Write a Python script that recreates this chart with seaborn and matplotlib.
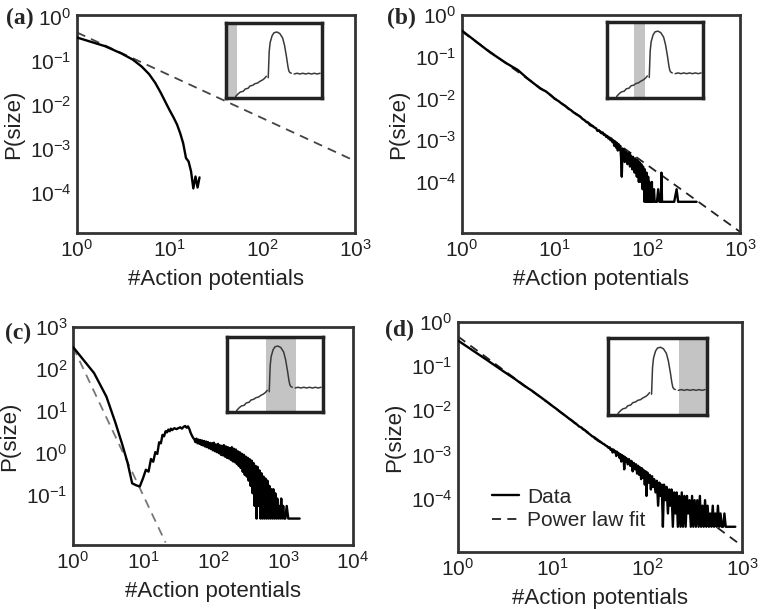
import numpy as np
import pandas as pd
import seaborn as sns
import matplotlib
matplotlib.use("Agg")
import matplotlib.pyplot as plt

# ---------- panel (a): small avalanches, exponential-like cut-off ----------
a_sizes = list(range(1, 22))
a_prob = [0.339, 0.216, 0.148, 0.107, 0.0741, 0.0501, 0.0316, 0.0191, 0.0117,
          0.00759, 0.00525, 0.00363, 0.00229, 0.00135, 0.00063, 0.000525,
          0.000316, 0.000129, 0.00024, 0.000135, 0.000229]
a_fit_x = [1, 1000]
a_fit_y = [0.44, 5.4e-4]

# ---------- panel (b): power law ----------
b_sizes = list(range(1, 26))
b_prob = [0.42, 0.128, 0.070, 0.048, 0.031, 0.0225, 0.0172, 0.0148, 0.0121,
          0.0098, 0.0086, 0.0074, 0.0066, 0.0057, 0.0052, 0.0046, 0.0042,
          0.0039, 0.0036, 0.0032, 0.0030, 0.0027, 0.0026, 0.0023, 0.0022]
b_unit = 3.3e-5  # probability of a single event
b_tail_sizes = list(range(26, 101)) + [
    101, 102, 104, 105, 107, 108, 110, 112, 113, 115,
    118, 120, 123, 127, 131, 135, 140, 142, 144, 150,
    158, 165, 175, 186, 195, 207, 215, 230, 250, 275,
    300, 340]
b_tail_counts = [
    64, 60, 58, 50, 52, 47, 44, 46, 40, 41,
    36, 38, 33, 35, 30, 33, 27, 30, 22, 28,
    20, 26, 17, 24, 18, 22, 12, 4, 19, 11,
    18, 9, 16, 12, 15, 8, 14, 9, 15, 7,
    13, 8, 12, 6, 12, 7, 10, 5, 11, 6,
    9, 4, 10, 5, 8, 3, 9, 4, 7, 3,
    8, 4, 6, 2, 7, 3, 5, 1, 6, 2,
    4, 1, 5, 1, 3,
    1, 4, 1, 3, 1, 2, 1, 3, 1, 1,
    2, 1, 1, 1, 2, 1, 1, 5, 1, 1,
    1, 1, 1, 1, 1, 2, 1, 1, 1, 1,
    1, 1]
b_fit_x = [1, 1000]
b_fit_y = [0.40, 6.3e-6]

# ---------- panel (c): bimodal ----------
c_sizes = list(range(1, 27)) + [28, 30, 32, 34, 36, 38, 40, 42, 44, 46, 48, 50, 52]
c_prob = [335, 80, 22, 5.5, 1.7, 0.6, 0.19, 0.17, 0.16, 0.25,
          0.40, 0.36, 0.72, 0.62, 1.05, 0.95, 1.8, 1.7, 2.7, 2.5,
          3.3, 3.1, 3.6, 3.3, 3.8, 3.5,
          3.9, 3.7, 3.9, 4.1, 3.8, 4.2, 4.4, 4.0, 4.3, 3.7, 3.0, 2.6, 2.3]
c_unit = 0.0275
c_tail_sizes = [
    54, 56, 58, 60, 62, 64, 66, 68, 70, 72,
    75, 77, 80, 82, 85, 88, 91, 94, 97, 100,
    103, 107, 110, 114, 118, 122, 126, 130, 134, 138,
    143, 148, 153, 158, 163, 168, 174, 180, 186, 192,
    198, 205, 212, 219, 226, 233, 241, 249, 257, 266,
    275, 284, 293, 303, 313, 323, 334, 345, 356, 368,
    380, 393, 406, 419, 433, 447, 462, 477, 493, 509,
    526, 543, 561, 580, 599, 619, 639, 660, 682, 705,
    728, 752, 777, 802, 829, 856, 884, 913, 944, 975,
    1007, 1040, 1080, 1130, 1190, 1260, 1340, 1430, 1530, 1620,
    1730]
c_tail_counts = [
    78, 66, 80, 62, 76, 60, 74, 57, 72, 55,
    70, 52, 68, 50, 66, 47, 63, 45, 62, 42,
    64, 40, 58, 38, 60, 36, 55, 33, 54, 32,
    56, 30, 52, 28, 50, 27, 48, 25, 50, 23,
    46, 22, 44, 20, 40, 18, 38, 16, 35, 13,
    33, 11, 30, 10, 28, 8, 26, 6, 24, 4,
    21, 2, 18, 1, 17, 2, 14, 1, 12, 1,
    10, 1, 9, 1, 8, 1, 6, 1, 5, 1,
    5, 1, 4, 1, 3, 1, 2, 1, 3, 1,
    2, 1, 1, 2, 1, 1, 1, 1, 1, 1,
    1]
c_fit_x = [1, 21]
c_fit_y = [335, 0.0074]

# ---------- panel (d): power law ----------
d_sizes = list(range(1, 30))
d_prob = [0.38, 0.14, 0.077, 0.051, 0.036, 0.028, 0.022, 0.0178, 0.0148, 0.0124,
          0.0107, 0.0092, 0.0081, 0.0072, 0.0064, 0.0058, 0.0052, 0.0048, 0.0043,
          0.0041, 0.0037, 0.0035, 0.0032, 0.0030, 0.0028, 0.0026, 0.0025, 0.0023,
          0.0022]
d_unit = 2.3e-5
d_tail_sizes = list(range(30, 61)) + [
    62, 64, 66, 68, 70, 72, 74, 76, 78, 80,
    82, 84, 86, 88, 90, 92, 94, 96, 98, 100,
    103, 106, 109, 112, 115, 118, 122, 126, 130, 134,
    138, 142, 146, 150, 155, 160, 165, 170, 175, 180,
    186, 192, 198, 204, 210, 217, 224, 231, 238, 246,
    254, 262, 270, 279, 288, 297, 306, 316, 326, 337,
    348, 359, 370, 382, 394, 407, 420, 433, 447, 461,
    476, 491, 507, 523, 540, 557, 575, 593, 612, 632,
    652, 673, 695, 717, 740, 770, 800, 850]
d_tail_counts = [
    90, 86, 83, 80, 76, 74, 70, 68, 65, 61,
    63, 55, 58, 48, 56, 49, 52, 40, 50, 44,
    46, 36, 44, 30, 42, 34, 40, 20, 38, 30,
    36,
    26, 34, 24, 31, 18, 28, 20, 26, 16, 24,
    15, 22, 12, 21, 13, 19, 9, 18, 5, 17,
    10, 15, 7, 14, 8, 12, 6, 11, 3, 10,
    5, 9, 1, 9, 4, 8, 2, 7, 3, 7,
    1, 6, 2, 6, 1, 5, 1, 6, 1, 5,
    1, 5, 2, 4, 1, 5, 1, 4, 1, 4,
    1, 5, 1, 3, 1, 4, 1, 3, 1, 2,
    1, 3, 1, 2, 1, 3, 1, 2, 1, 1,
    2, 1, 1, 1, 1, 1, 1, 1]
d_fit_x = [1, 1000]
d_fit_y = [0.47, 8.5e-6]

# ---------- inset trace (same in every panel), axes-fraction coordinates ----------
trace_seg = [0] * 14 + [1] * 15 + [2] * 10
trace_x = [0.10, 0.13, 0.15, 0.18, 0.20, 0.23, 0.25, 0.28, 0.30, 0.33, 0.35, 0.38, 0.40, 0.42,
           0.44, 0.445, 0.45, 0.46, 0.48, 0.50, 0.53, 0.56, 0.59, 0.61, 0.63, 0.645, 0.655, 0.665, 0.68,
           0.71, 0.74, 0.77, 0.80, 0.83, 0.86, 0.89, 0.92, 0.95, 0.98]
trace_y = [0.02, 0.06, 0.08, 0.09, 0.12, 0.13, 0.16, 0.17, 0.19, 0.20, 0.22, 0.24, 0.26, 0.29,
           0.27, 0.45, 0.62, 0.74, 0.83, 0.87, 0.88, 0.86, 0.80, 0.70, 0.55, 0.42, 0.36, 0.34, 0.33,
           0.32, 0.33, 0.32, 0.33, 0.32, 0.33, 0.32, 0.33, 0.32, 0.33]
bands = {"a": (0.0, 0.11), "b": (0.28, 0.40), "c": (0.41, 0.72), "d": (0.72, 1.0)}

trace = pd.DataFrame({"tx": trace_x, "ty": trace_y, "seg": trace_seg})


def make_df(sizes, prob, tail_sizes=None, tail_counts=None, unit=None):
    s = list(sizes)
    p = list(prob)
    if tail_sizes is not None:
        s += list(tail_sizes)
        p += list(np.array(tail_counts) * unit)
    return pd.DataFrame({"size": s, "p": p})


sns.set_theme(style="white")
plt.rcParams["font.family"] = ["Liberation Sans", "DejaVu Sans"]
plt.rcParams["mathtext.fontset"] = "custom"
plt.rcParams["mathtext.rm"] = "Liberation Sans"
plt.rcParams["mathtext.it"] = "Liberation Sans:italic"
plt.rcParams["mathtext.bf"] = "Liberation Sans:bold"
plt.rcParams["mathtext.sf"] = "Liberation Sans"

fig = plt.figure(figsize=(7.6, 6.1), dpi=100)


def px_axes(left, top, right, bottom):
    return fig.add_axes([left / 760, 1 - bottom / 610,
                         (right - left) / 760, (bottom - top) / 610])


panels = [
    dict(tag="(a)", key="a", box=(77, 15, 355, 233), inset=(226, 23, 322, 98),
         df=make_df(a_sizes, a_prob), fit=(a_fit_x, a_fit_y), fit_color="#444444",
         xlim=(1, 1e3), ylim=(10 ** -4.9, 10 ** 0.04),
         xticks=[1, 10, 100, 1000], yticks=[1e-4, 1e-3, 1e-2, 1e-1, 1], tag_xy=(20, 18)),
    dict(tag="(b)", key="b", box=(462, 15, 740, 233), inset=(607, 22, 703, 98),
         df=make_df(b_sizes, b_prob, b_tail_sizes, b_tail_counts, b_unit),
         fit=(b_fit_x, b_fit_y), fit_color="#222222",
         xlim=(1, 1e3), ylim=(10 ** -5.23, 1.0),
         xticks=[1, 10, 100, 1000], yticks=[1e-4, 1e-3, 1e-2, 1e-1, 1], tag_xy=(401, 18)),
    dict(tag="(c)", key="c", box=(73, 327, 353, 545), inset=(227, 337, 323, 412),
         df=make_df(c_sizes, c_prob, c_tail_sizes, c_tail_counts, c_unit),
         fit=(c_fit_x, c_fit_y), fit_color="#777777",
         xlim=(1, 1e4), ylim=(10 ** -2.19, 1000),
         xticks=[1, 10, 100, 1000, 10000], yticks=[1e-1, 1, 10, 100, 1000], tag_xy=(18, 333)),
    dict(tag="(d)", key="d", box=(458, 322, 742, 552), inset=(608, 338, 707, 415),
         df=make_df(d_sizes, d_prob, d_tail_sizes, d_tail_counts, d_unit),
         fit=(d_fit_x, d_fit_y), fit_color="#222222",
         xlim=(1, 1e3), ylim=(10 ** -5.21, 1.0),
         xticks=[1, 10, 100, 1000], yticks=[1e-4, 1e-3, 1e-2, 1e-1, 1], tag_xy=(399, 330)),
]

for pnl in panels:
    ax = px_axes(*pnl["box"])
    ax.set_xscale("log")
    ax.set_yscale("log")
    legend_on = pnl["key"] == "d"

    sns.lineplot(x=pnl["fit"][0], y=pnl["fit"][1], ax=ax, color=pnl["fit_color"],
                 lw=1.3, linestyle=(0, (5, 3.5)), zorder=2,
                 label="Power law fit" if legend_on else None)
    sns.lineplot(data=pnl["df"], x="size", y="p", ax=ax, color="black", lw=1.7,
                 estimator=None, sort=False, zorder=3,
                 label="Data" if legend_on else None)

    ax.set_xlim(*pnl["xlim"])
    ax.set_ylim(*pnl["ylim"])
    ax.set_xticks(pnl["xticks"])
    ax.set_yticks(pnl["yticks"])
    ax.minorticks_off()
    ax.tick_params(length=0, labelsize=15, pad=4, colors="#222222")
    ax.set_xlabel("#Action potentials", fontsize=16, labelpad=6, color="#222222")
    ax.set_ylabel("P(size)", fontsize=16, labelpad=4, color="#222222")
    for sp in ax.spines.values():
        sp.set_linewidth(2)
        sp.set_color("#333333")

    if legend_on:
        handles, labels = ax.get_legend_handles_labels()
        order = [labels.index("Data"), labels.index("Power law fit")]
        ax.legend([handles[i] for i in order], [labels[i] for i in order],
                  loc="lower left", bbox_to_anchor=(0.09, 0.06), frameon=False,
                  fontsize=15, handlelength=1.3, handletextpad=0.4, labelspacing=0.2,
                  borderaxespad=0)

    fig.text(pnl["tag_xy"][0] / 760, 1 - pnl["tag_xy"][1] / 610, pnl["tag"],
             family="Liberation Serif", fontweight="bold", fontsize=17,
             ha="center", va="center")

    ins = px_axes(*pnl["inset"])
    lo, hi = bands[pnl["key"]]
    ins.axvspan(lo, hi, color="#c4c4c4", lw=0, zorder=0)
    sns.lineplot(data=trace, x="tx", y="ty", units="seg", estimator=None, sort=False,
                 color="#3a3a3a", lw=1.1, ax=ins)
    ins.set(xlim=(0, 1), ylim=(0, 1), xticks=[], yticks=[], xlabel="", ylabel="")
    for sp in ins.spines.values():
        sp.set_linewidth(2.5)
        sp.set_color("#222222")

fig.savefig("out.png", dpi=100)
